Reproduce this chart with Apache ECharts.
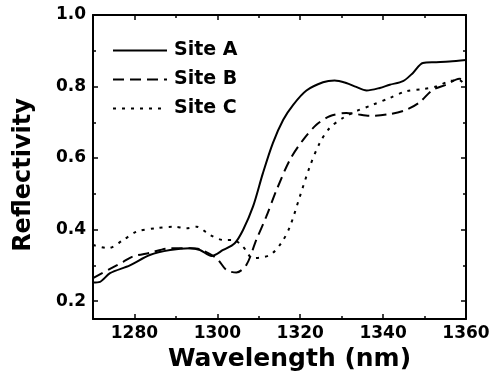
<!DOCTYPE html>
<html>
<head>
<meta charset="utf-8">
<script src="https://cdn.jsdelivr.net/npm/echarts@6/dist/echarts.min.js"></script>
<style>
  html, body { margin: 0; padding: 0; background: #fff; }
  #chart { width: 494px; height: 386px; }
</style>
</head>
<body>
<div id="chart"></div>
<script>
// 数据
const siteAWave = [1270, 1271.7, 1274.1, 1278.9, 1283.7, 1288.6, 1293.4, 1295.8, 1298.6, 1301.4, 1304.2, 1306.2, 1308.6, 1311.0, 1313.4, 1315.9, 1318.3, 1321.5, 1325.5, 1328.3, 1331.1, 1333.5, 1336.0, 1339.2, 1341.6, 1344.8, 1347.2, 1349.6, 1352.8, 1356.0, 1360]
const siteAValue = [0.252, 0.254, 0.278, 0.300, 0.329, 0.343, 0.348, 0.343, 0.326, 0.343, 0.362, 0.399, 0.464, 0.558, 0.642, 0.707, 0.749, 0.789, 0.812, 0.817, 0.810, 0.799, 0.789, 0.796, 0.805, 0.815, 0.838, 0.866, 0.868, 0.870, 0.874]

const siteBWave = [1270, 1274.1, 1277.3, 1279.7, 1283.7, 1288.6, 1293.4, 1295.8, 1299.8, 1302.2, 1304.6, 1307.0, 1309.4, 1311.8, 1314.3, 1317.5, 1320.7, 1323.9, 1327.1, 1331.1, 1333.5, 1336.7, 1341.6, 1345.6, 1348.8, 1352.0, 1355.2, 1358.4, 1360]
const siteBValue = [0.264, 0.290, 0.310, 0.325, 0.335, 0.348, 0.348, 0.345, 0.320, 0.287, 0.280, 0.301, 0.371, 0.436, 0.511, 0.595, 0.651, 0.693, 0.717, 0.726, 0.723, 0.718, 0.723, 0.735, 0.756, 0.791, 0.805, 0.822, 0.815]

const siteCWave = [1270, 1273.7, 1277.3, 1280.5, 1285.3, 1289.4, 1292.6, 1295.0, 1298.2, 1301.4, 1303.8, 1306.2, 1308.6, 1312.7, 1315.4, 1317.5, 1319.9, 1322.3, 1324.7, 1327.1, 1330.3, 1333.5, 1337.5, 1341.6, 1345.6, 1349.6, 1352.8, 1356.0, 1358.4, 1360]
const siteCValue = [0.357, 0.348, 0.371, 0.394, 0.404, 0.408, 0.404, 0.408, 0.385, 0.371, 0.371, 0.352, 0.320, 0.329, 0.362, 0.408, 0.492, 0.576, 0.642, 0.684, 0.712, 0.731, 0.749, 0.768, 0.787, 0.793, 0.800, 0.815, 0.818, 0.800]

// 刻度
const xMajorTicks = [1280, 1300, 1320, 1340, 1360]
const xMinorTicks = [1290, 1310, 1330, 1350]
const yMajorTicks = [0.2, 0.4, 0.6, 0.8, 1.0]
const yMinorTicks = [0.3, 0.5, 0.7, 0.9]

const xRange = [1270, 1360]
const yRange = [0.15, 1.0]

const fontFamily = "DejaVu Sans"

function pairs(xs, ys) {
  return xs.map((x, i) => [x, ys[i]])
}

function xAxisOf(gridIndex, position, ticks, len, showLine, labels) {
  return {
    type: "value",
    gridIndex: gridIndex,
    position: position,
    min: xRange[0],
    max: xRange[1],
    splitLine: { show: false },
    axisLine: { show: showLine, onZero: false, lineStyle: { color: "#000", width: 2 } },
    axisTick: { show: true, inside: true, length: len, customValues: ticks, lineStyle: { color: "#000", width: 1.5 } },
    axisLabel: labels
      ? { show: true, customValues: ticks, margin: 6, color: "#000", fontSize: 17, fontWeight: "bold", fontFamily: fontFamily,
          formatter: function (v) { return String(v) } }
      : { show: false }
  }
}

function yAxisOf(gridIndex, position, ticks, len, showLine, labels) {
  return {
    type: "value",
    gridIndex: gridIndex,
    position: position,
    min: yRange[0],
    max: yRange[1],
    splitLine: { show: false },
    axisLine: { show: showLine, onZero: false, lineStyle: { color: "#000", width: 2 } },
    axisTick: { show: true, inside: true, length: len, customValues: ticks, lineStyle: { color: "#000", width: 1.5 } },
    axisLabel: labels
      ? { show: true, customValues: ticks, margin: 7, color: "#000", fontSize: 17, fontWeight: "bold", fontFamily: fontFamily,
          formatter: function (v) { return v.toFixed(1) } }
      : { show: false }
  }
}

const chart = echarts.init(document.getElementById("chart"))

const xMain = xAxisOf(0, "bottom", xMajorTicks, 5, true, true)
xMain.name = "Wavelength (nm)"
xMain.nameLocation = "middle"
xMain.nameGap = 24
xMain.nameTextStyle = { color: "#000", fontSize: 25, fontWeight: "bold", fontFamily: fontFamily, padding: [0, 0, 0, 20] }

const yMain = yAxisOf(0, "left", yMajorTicks, 5, true, true)
yMain.name = "Reflectivity"
yMain.nameLocation = "middle"
yMain.nameGap = 57
yMain.nameTextStyle = { color: "#000", fontSize: 24, fontWeight: "bold", fontFamily: fontFamily, padding: [0, 16, 0, 0] }

const option = {
  animation: false,
  backgroundColor: "#fff",
  grid: [
    { left: 93, right: 28, top: 15, bottom: 67 },
    { left: 93, right: 28, top: 15, bottom: 67 }
  ],
  legend: {
    orient: "vertical",
    left: 112,
    top: 41,
    padding: 0,
    itemWidth: 54,
    itemHeight: 14,
    itemGap: 10,
    itemStyle: { opacity: 0 },
    textStyle: { color: "#000", fontSize: 19, fontWeight: "bold", fontFamily: fontFamily, padding: [0, 0, 0, 2] },
    data: ["Site A", "Site B", "Site C"]
  },
  xAxis: [
    xMain,
    xAxisOf(0, "top", xMajorTicks, 5, true, false),
    xAxisOf(1, "bottom", xMinorTicks, 3, false, false),
    xAxisOf(1, "top", xMinorTicks, 3, false, false)
  ],
  yAxis: [
    yMain,
    yAxisOf(0, "right", yMajorTicks, 5, true, false),
    yAxisOf(1, "left", yMinorTicks, 3, false, false),
    yAxisOf(1, "right", yMinorTicks, 3, false, false)
  ],
  series: [
    {
      name: "Site A",
      type: "line",
      xAxisIndex: 0,
      yAxisIndex: 0,
      showSymbol: false,
      symbol: "none",
      smooth: 0.3,
      lineStyle: { color: "#000", width: 2, type: "solid" },
      itemStyle: { color: "#000" },
      data: pairs(siteAWave, siteAValue)
    },
    {
      name: "Site B",
      type: "line",
      xAxisIndex: 0,
      yAxisIndex: 0,
      showSymbol: false,
      symbol: "none",
      smooth: 0.3,
      lineStyle: { color: "#000", width: 2, type: [11, 6] },
      itemStyle: { color: "#000" },
      data: pairs(siteBWave, siteBValue)
    },
    {
      name: "Site C",
      type: "line",
      xAxisIndex: 0,
      yAxisIndex: 0,
      showSymbol: false,
      symbol: "none",
      smooth: 0.3,
      lineStyle: { color: "#000", width: 2, type: [3, 6] },
      itemStyle: { color: "#000" },
      data: pairs(siteCWave, siteCValue)
    }
  ]
}

chart.setOption(option)
</script>
</body>
</html>
